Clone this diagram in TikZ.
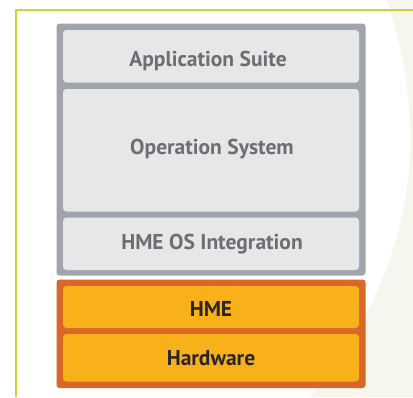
\documentclass[tikz,border=0pt]{standalone}
\usepackage{fontspec}
\setmainfont{PT Sans}
\definecolor{bgoff}{HTML}{F6F6EF}
\definecolor{linegreen}{HTML}{C9D43C}
\definecolor{frgray}{HTML}{A0A5AB}
\definecolor{fillgray}{HTML}{E6E7E9}
\definecolor{txtgray}{HTML}{6D6E71}
\definecolor{frorange}{HTML}{D9672A}
\definecolor{fillorange}{HTML}{F8B119}
\definecolor{txtdark}{HTML}{2B2526}
\tikzset{
  outerframe/.style={rounded corners=3pt},
  layer/.style={rounded corners=3.5pt},
  lbl/.style={anchor=base, inner sep=0pt, font=\fontsize{21.5}{24}\selectfont\bfseries}
}
\begin{document}
\begin{tikzpicture}[x=1pt,y=-1pt]
\useasboundingbox (0,0) rectangle (413,397);
\fill[white] (0,0) rectangle (413,397);
% off-white background swoosh
\fill[bgoff] (387,0) .. controls (422,110) and (432,250) .. (310,397) -- (413,397) -- (413,0) -- cycle;
% green frame lines
\draw[linegreen, line width=1.3pt] (16,397) -- (16,10) -- (413,10);
% gray stack
\fill[frgray, outerframe] (56.5,23.5) rectangle (365.5,275.5);
\fill[fillgray, layer] (63,30) rectangle (359,82.5);
\fill[fillgray, layer] (63,89) rectangle (359,211.5);
\fill[fillgray, layer] (63,217.5) rectangle (359,270);
% orange stack
\fill[frorange, outerframe] (56.5,279.5) rectangle (365.5,388);
\fill[fillorange, layer] (63,286) rectangle (359,328);
\fill[fillorange, layer] (63,334) rectangle (359,381.5);
% labels
\node[lbl, text=txtgray] (app) at (208,66) {Application Suite};
\node[lbl, text=txtgray] (os) at (212,154) {Operation System};
\node[lbl, text=txtgray] (hmeos) at (212,249) {HME OS Integration};
\node[lbl, text=txtdark] (hme) at (211,316.5) {HME};
\node[lbl, text=txtdark] (hw) at (211,365) {Hardware};
\end{tikzpicture}
\end{document}
